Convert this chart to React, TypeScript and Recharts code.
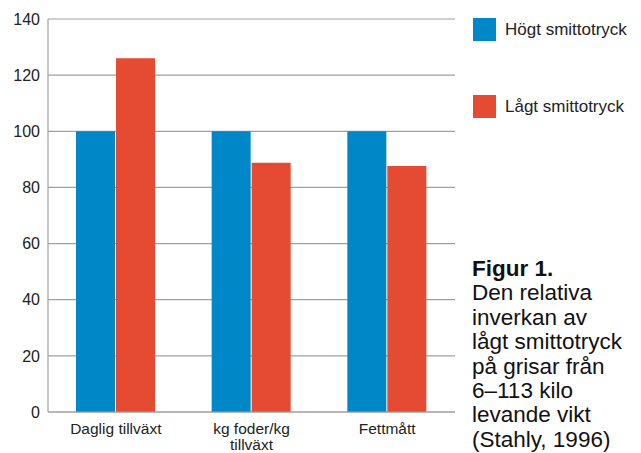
import React from "react";
import { BarChart, Bar, XAxis, YAxis, CartesianGrid } from "recharts";

const categories = ["Daglig tillväxt", "kg foder/kg tillväxt", "Fettmått"];
const hogtValues = [100, 100, 100];
const lagtValues = [126, 88.8, 87.6];
const yTicks = [0, 20, 40, 60, 80, 100, 120, 140];
const seriesNames = ["Högt smittotryck", "Lågt smittotryck"];
const captionTitle = "Figur 1.";
const captionLines = [
  "Den relativa",
  "inverkan av",
  "lågt smittotryck",
  "på grisar från",
  "6–113 kilo",
  "levande vikt",
  "(Stahly, 1996)",
];

const data = categories.map((name, i) => ({
  name,
  hogt: hogtValues[i],
  lagt: lagtValues[i],
}));

const FONT = '"Liberation Sans", Arial, Helvetica, sans-serif';
const BLUE = "#0087C7";
const RED = "#E54A32";

// breaks the long category label into two lines like the original
function CategoryTick({ x, y, payload }: any) {
  const label: string = payload.value;
  let lines = [label];
  if (label.length > 16) {
    const cut = label.lastIndexOf(" ");
    lines = [label.slice(0, cut), label.slice(cut + 1)];
  }
  return (
    <text x={x} y={y} textAnchor="middle" fontSize={15.5} fill="#222" fontFamily={FONT}>
      {lines.map((l, i) => (
        <tspan key={i} x={x} dy={i === 0 ? 14 : 16}>
          {l}
        </tspan>
      ))}
    </text>
  );
}

function LegendBox() {
  const colors = [BLUE, RED];
  return (
    <div style={{ position: "absolute", left: 473, top: 18, fontFamily: FONT }}>
      {seriesNames.map((n, i) => (
        <div
          key={n}
          style={{ display: "flex", alignItems: "center", height: 23, marginBottom: i === 0 ? 54 : 0 }}
        >
          <div style={{ width: 23, height: 23, background: colors[i], marginRight: 9 }} />
          <span style={{ fontSize: 17, color: "#222" }}>{n}</span>
        </div>
      ))}
    </div>
  );
}

export default function App() {
  return (
    <div style={{ position: "absolute", left: 0, top: 0, width: 641, height: 453, background: "#fff" }}>
      <BarChart
        width={641}
        height={453}
        data={data}
        margin={{ top: 19, right: 186, left: 0, bottom: 0 }}
        barGap={1}
        barSize={39}
      >
        <CartesianGrid vertical={false} stroke="#a0a0a0" strokeWidth={1.2} />
        <XAxis
          dataKey="name"
          height={41}
          tickLine={false}
          axisLine={{ stroke: "#a0a0a0", strokeWidth: 1.2 }}
          tick={<CategoryTick />}
          interval={0}
        />
        <YAxis
          width={48}
          domain={[0, 140]}
          ticks={yTicks}
          tickLine={false}
          axisLine={{ stroke: "#a0a0a0", strokeWidth: 1.2 }}
          tick={{ fontSize: 16, fill: "#222", fontFamily: FONT }}
        />
        <Bar dataKey="hogt" name={seriesNames[0]} fill={BLUE} isAnimationActive={false} />
        <Bar dataKey="lagt" name={seriesNames[1]} fill={RED} isAnimationActive={false} />
      </BarChart>
      <LegendBox />
      <div
        style={{
          position: "absolute",
          left: 472,
          top: 257,
          fontFamily: FONT,
          fontSize: 22.5,
          lineHeight: "24.4px",
          color: "#111",
        }}
      >
        <div style={{ fontWeight: "bold" }}>{captionTitle}</div>
        {captionLines.map((l) => (
          <div key={l}>{l}</div>
        ))}
      </div>
    </div>
  );
}
